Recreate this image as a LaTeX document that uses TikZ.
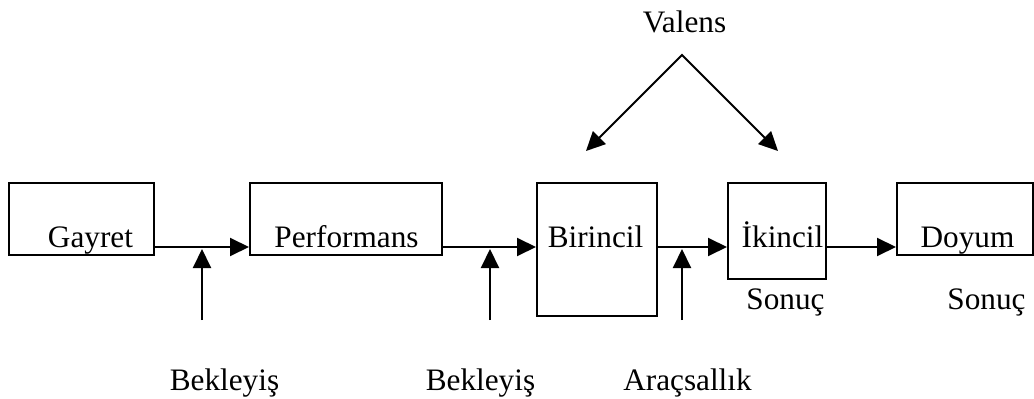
\documentclass[tikz,border=0pt]{standalone}
\usepackage{fontspec}
\setmainfont{Liberation Serif}
\usepackage{tikz}
\usetikzlibrary{arrows.meta,positioning,calc}
\tikzset{
  >={Triangle[length=7.6pt,width=7.2pt]},
  box/.style={draw,line width=0.8pt,inner sep=0pt,minimum height=28.8pt},
  lab/.style={font=\fontsize{12.5}{15}\selectfont,anchor=base,inner sep=0pt},
  arr/.style={->,draw,line width=0.8pt},
}

\begin{document}
\begin{tikzpicture}[x=0.4pt,y=-0.4pt]
\useasboundingbox (0,0) rectangle (1034,399);
% boxes
\node[box,minimum width=58pt] (gayret) at (81.5,219) {};
\node[box,minimum width=76.8pt] (perf) at (346,219) {};
\node[box,minimum width=48pt,minimum height=53.2pt] (bir) at (597,249.5) {};
\node[box,minimum width=39.2pt,minimum height=38.4pt] (ikin) at (777,231) {};
\node[box,minimum width=54.4pt] (doyum) at (965,219) {};
% texts
\node[lab] (tgay) at (90.5,247) {Gayret};
\node[lab] (tperf) at (346.5,247) {Performans};
\node[lab] (tbir) at (595.5,247) {Birincil};
\node[lab] (tikin) at (782.5,247) {İkincil};
\node[lab] (tdoy) at (967.5,247) {Doyum};
\node[lab] (sonuc1) at (785.5,310) {Sonuç};
\node[lab] (sonuc2) at (986.5,310) {Sonuç};
\node[lab] (valens) at (684.5,33) {Valens};
\node[lab] (bek1) at (224.5,390) {Bekleyiş};
\node[lab] (bek2) at (480.5,390) {Bekleyiş};
\node[lab] (arac) at (687.5,390) {Araçsallık};
% flow
\coordinate (ln) at (0,247);
\coordinate (up) at (0,249);
\foreach \u/\v in {gayret/perf,perf/bir,bir/ikin,ikin/doyum}
  \draw[arr] (\u.east |- ln) -- (\v.west |- ln);
\coordinate (b1) at (202,320);
\coordinate (b2) at (490,320);
\coordinate (b3) at (682,320);
\foreach \c in {b1,b2,b3} \draw[arr] (\c) -- (\c |- up);
% valens
\coordinate (apex) at (682,55);
\coordinate (vl) at (586,151);
\coordinate (vr) at (778,151);
\draw[arr,<->] (vl) -- (apex) -- (vr);
\end{tikzpicture}
\end{document}
